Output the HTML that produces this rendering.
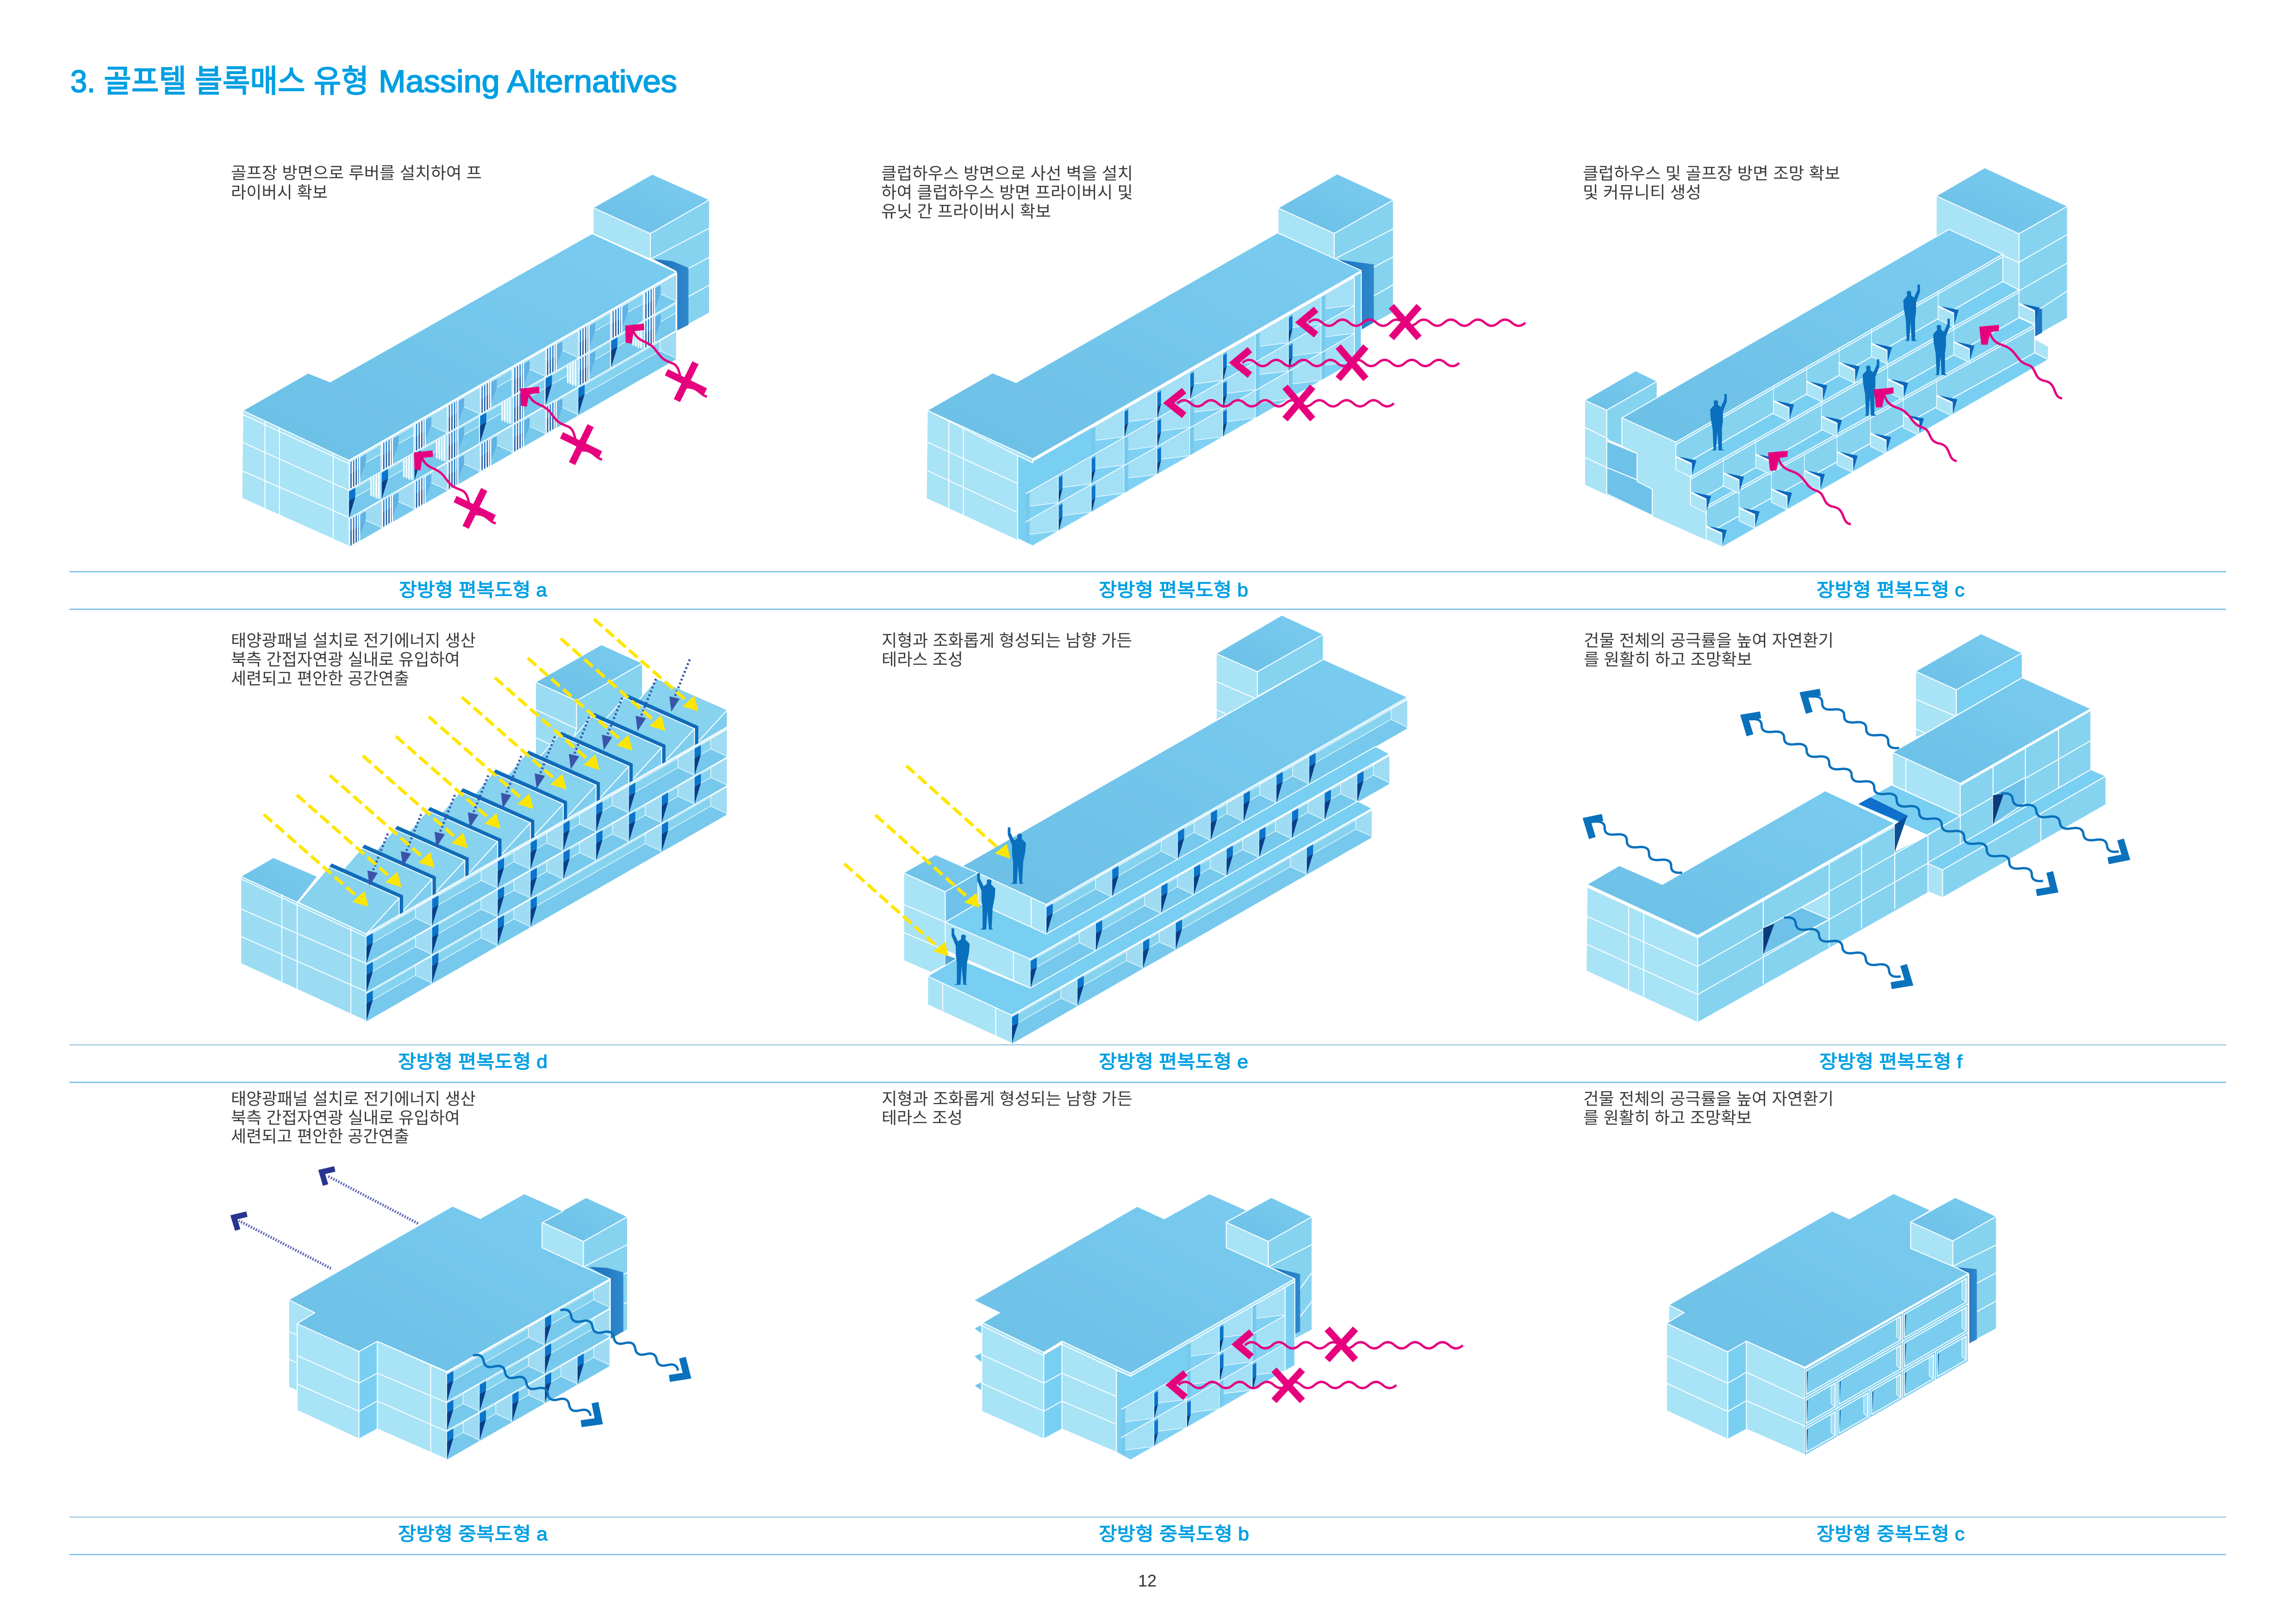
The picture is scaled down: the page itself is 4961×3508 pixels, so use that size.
<!DOCTYPE html>
<html lang="ko"><head><meta charset="utf-8"><title>Massing Alternatives</title>
<style>
html,body{margin:0;padding:0;background:#fff}
svg{display:block}
polygon,polyline,path,line,rect{vector-effect:non-scaling-stroke}
polygon{stroke:#fff;stroke-width:2;stroke-linejoin:round}
.n{stroke:none}
.rf{fill:url(#gr)}
.lt{fill:#a9e3f6}
.md{fill:#86d3f0}
.fl{fill:#79cff2}
.wl{fill:#6ec2e9}
.sd{fill:url(#sg);stroke:none}
.w{stroke:#fff;stroke-width:2;fill:none}
.t{stroke:#fff;stroke-width:1.2;fill:none}
.v{stroke:#fff;stroke-width:3.5;fill:none}
.pk{stroke:#e6007e;stroke-width:5;fill:none}
.pkx{stroke:#e6007e;stroke-width:15;fill:none}
.bw{stroke:#0a71bd;stroke-width:5;fill:none}
.bc{stroke:#0a71bd;stroke-width:15;fill:none;stroke-linejoin:miter}
.nc{stroke:#28348f;stroke-width:12;fill:none;stroke-linejoin:miter}
.nd{stroke:#5a66b8;stroke-width:6;stroke-dasharray:3 3;fill:none}
.yd{stroke:#ffe600;stroke-width:7;stroke-dasharray:24 10;fill:none}
.dd{stroke:#3a55a8;stroke-width:5;stroke-dasharray:4 5;fill:none}
text{font-family:"Liberation Sans","Noto Sans CJK KR",sans-serif}
.ti{font-size:68px;fill:#009fe3;stroke:#009fe3;stroke-width:2}
.lb{font-size:40px;fill:#009fe3;stroke:#009fe3;stroke-width:1.2}
.tx{font-size:36px;fill:#3a3a3a}
.pg{font-size:36px;fill:#333}
</style></head><body>
<svg xmlns="http://www.w3.org/2000/svg" width="4961" height="3508" viewBox="0 0 4961 3508">
<defs>
<clipPath id="cb"><polygon points="460,1010 490,1040 1145,430 1145,706 490,1313 460,1290"/></clipPath>
<clipPath id="cq"><polygon points="640,985 672,1005 1043,700 1043,970 672,1275 640,1250"/></clipPath>
<linearGradient id="gr" x1="0" y1="1" x2="1" y2="0"><stop offset="0" stop-color="#6cbfe5"/><stop offset="1" stop-color="#7accf0"/></linearGradient>
<linearGradient id="sg" x1="0" y1="0" x2="1" y2="0"><stop offset="0" stop-color="#1a6fbd"/><stop offset="1" stop-color="#2f88cc"/></linearGradient>
<g id="bg"><rect width="100" height="100" fill="#86d3f0"/><rect y="38" width="100" height="62" fill="#76c9ec"/><line x1="0" y1="38" x2="100" y2="38" class="t"/><line x1="0" y1="0" x2="100" y2="0" class="w"/><line x1="0" y1="5" x2="100" y2="5" class="t"/><line x1="100" y1="0" x2="100" y2="100" class="v"/></g>
<polygon id="sw" fill="#9fdcf3" style="stroke-width:1.2" points="50,3 100,3 100,97 50,38"/>
<g id="sl"><polygon class="n" fill="#0b74cc" points="1,5 20,5 20,38 1,38"/><polygon class="n" fill="#0a3f88" points="1,38 20,38 1,98"/></g>
<g id="bay"><use href="#bg"/><use href="#sw"/><use href="#sl"/></g>
<g id="b2"><use href="#bg" transform="scale(2 1)"/><use href="#sw" x="100"/><use href="#sl"/></g>
<g id="b3"><use href="#bg" transform="scale(3 1)"/><use href="#sw" x="200"/><use href="#sl"/></g>
<g id="b4"><use href="#bg" transform="scale(4 1)"/><use href="#sw" x="300"/><use href="#sl"/></g>
<g id="lv"><polygon class="n" fill="#5fb2e4" points="30,10 52,8 52,38 30,95"/><rect x="1" y="5" width="30" height="42" fill="#2a86d2"/><rect x="1" y="47" width="30" height="50" fill="#1c5ea6"/><path d="M3 3V100M11 3V100M19 3V100M27 3V100M33 3V100" stroke="#fff" stroke-width="2.8" fill="none"/></g>
<g id="la"><use href="#bg"/><use href="#sw"/><use href="#lv"/></g>
<g id="lc"><use href="#bg"/><use href="#lv"/></g>
<g id="ld"><use href="#bg"/><use href="#sl"/><polygon class="n" fill="#a9e3f6" points="66,3 100,3 100,97 66,60"/><path d="M68 3V66M76 3V75M84 3V85M92 3V92" stroke="#fff" stroke-width="2.8" fill="none"/></g>
<g id="pa"><rect width="100" height="100" fill="#76c9ec"/><polygon class="n" fill="#a3e0f6" points="12,3 100,3 100,98 12,52"/><polygon class="n" fill="#7fd1f4" points="12,52 100,98 100,100 12,100"/><line x1="0" y1="0" x2="100" y2="0" class="w"/><line x1="100" y1="0" x2="100" y2="100" class="w"/><line x1="12" y1="52" x2="100" y2="98" class="t"/></g>
<g id="ps"><use href="#pa"/><polygon class="n" fill="#0b74cc" points="1,10 12,10 12,55 1,60"/><polygon class="n" fill="#0a3b7c" points="1,60 12,55 1,100"/></g>
<g id="wb"><rect width="100" height="100" fill="#7acdee"/><line x1="0" y1="0" x2="100" y2="0" class="w"/><line x1="100" y1="0" x2="100" y2="100" class="v"/><line x1="0" y1="100" x2="100" y2="100" class="w"/></g>
<polygon id="ws" fill="#a3e0f6" style="stroke-width:1.2" points="80,10 92,10 92,90 80,72"/>
<polygon id="wd" class="n" fill="#0b5ea8" points="6,14 10,14 6,88"/>
<g id="win"><use href="#wb"/><use href="#ws"/><rect x="5" y="9" width="88" height="82" class="w"/><use href="#wd"/></g>
<g id="w2"><use href="#wb" transform="scale(2 1)"/><use href="#ws" x="100"/><rect x="5" y="9" width="188" height="82" class="w"/><use href="#wd"/></g>
<g id="w3"><use href="#wb" transform="scale(3 1)"/><use href="#ws" x="200"/><rect x="5" y="9" width="288" height="82" class="w"/><use href="#wd"/></g>
<path id="pn" class="n" fill="#0a6fbd" d="M-10 0L-10 -3L-8 -3L-10 -70L-14 -105L-15 -132L-7 -146L-8 -158Q-3 -166 1 -158L1 -147L7 -140L14 -165L14 -182L19 -182L19 -158L11 -125L11 -95L9 -70L9 -4L14 0L2 0L2 -4L0 -60L-3 -4L-3 0Z"/>
<path id="pw" class="pk" d="M0 0q13.5 -20 27 0t27 0t27 0t27 0t27 0t27 0t27 0t27 0t27 0t27 0t27 0t27 0t27 0t27 0t27 0t27 0"/>
<g id="pd"><polygon class="n" fill="#e6007e" points="825,1135 862,1130 863,1146 842,1149 838,1180 826,1178"/><path class="pk" d="M840 1145C850 1180 870 1170 885 1195S900 1220 920 1230S930 1290 950 1290S975 1310 988 1313"/><path class="pkx" d="M965 1228L928 1323M907 1252L985 1300"/></g>
<g id="pc"><polygon class="n" fill="#e6007e" points="491,1012 531,1006 531,1025 513,1030 508,1070 495,1070"/><path class="pk" d="M512 1028C520 1075 540 1065 555 1085S570 1125 590 1135S600 1180 625 1187S640 1240 660 1243"/></g>
<g id="fn"><line x1="0" y1="0" x2="0" y2="-50" class="t"/><polygon class="n" fill="#0b68bb" points="6,0 42,12 33,60 32,23"/><polygon fill="#a9e3f6" style="stroke-width:1.5" points="0,0 32,23 32,66 0,42"/><line x1="0" y1="0" x2="32" y2="23" class="v"/></g>
<g id="tf"><polygon fill="#7fcdee" points="558,1003 558,1060 472,1125"/><polygon fill="#86d2ef" points="375,898 558,1003 472,1125 295,1018"/></g>
<g id="tt"><polygon class="n" fill="#0f6cba" points="382,886 568,994 568,1054 558,1060 558,1003 375,898"/><use href="#tf"/></g>
<g id="ya"><line x1="205" y1="720" x2="455" y2="1006" class="yd"/><polygon class="n" fill="#ffe600" points="478,1033 436,1016 467,980"/></g>
<g id="da"><line x1="528" y1="785" x2="488" y2="915" class="dd"/><polygon class="n" fill="#3a55a8" points="480,962 475,910 502,918"/></g>
</defs>
<rect width="4961" height="3508" fill="#fff"/>

<text class="ti" x="152" y="199" textLength="645" lengthAdjust="spacingAndGlyphs">3. 골프텔 블록매스 유형</text>
<text class="ti" x="818" y="199" textLength="645" lengthAdjust="spacingAndGlyphs">Massing Alternatives</text>

<g stroke-width="2.5" fill="none">
<path d="M150 1235H4810M150 1316H4810M150 2338H4810M150 3358H4810" stroke="#6dbbe8"/>
<path d="M150 2257H4810M150 3277H4810" stroke="#9fc6da"/>
</g>

<!-- A -->
<g transform="scale(1.0842 .861)">
<polygon class="md" points="1296,586 1414,501 1414,785 1370,815 1370,672 1296,650"/>
<path class="w" d="M1296 650L1414 572M1348 690L1414 645M1348 760L1414 715"/>
<polygon class="lt" points="1182,521 1296,586 1296,650 1182,586"/>
<polygon class="rf" points="1182,521 1300,437 1414,501 1296,586"/>
<polygon class="sd" points="1302,650 1348,680 1348,830 1372,815 1372,672 1340,655"/>
<polygon class="lt" points="484,1030 695,1155 695,1370 482,1250"/>
<path class="w" d="M484 1040L695 1163M484 1110L695 1230M484 1182L695 1298M528 1055V1275M557 1072V1292M664 1137V1350"/>
<polygon class="md" points="695,1155 1348,683 1346,900 695,1370"/>
<g transform="matrix(.653,-.472,0,.716,695,1158)">
<use href="#lc"/><use href="#lc" x="100"/><use href="#la" x="200"/><use href="#la" x="300"/><use href="#lc" x="400"/><use href="#la" x="500"/><use href="#la" x="600"/><use href="#lc" x="700"/><use href="#lc" x="800"/><use href="#la" x="900"/>
<use href="#ld" y="100"/><use href="#ld" x="100" y="100"/><use href="#ld" x="200" y="100"/><use href="#lc" x="300" y="100"/><use href="#ld" x="400" y="100"/><use href="#lc" x="500" y="100"/><use href="#ld" x="600" y="100"/><use href="#lc" x="700" y="100"/><use href="#ld" x="800" y="100"/><use href="#lc" x="900" y="100"/>
<use href="#la" y="200"/><use href="#la" x="100" y="200"/><use href="#la" x="200" y="200"/><use href="#la" x="300" y="200"/><use href="#la" x="400" y="200"/><use href="#la" x="500" y="200"/><use href="#la" x="600" y="200"/><use href="#b3" x="700" y="200"/>
</g>
<polygon class="rf" points="484,1030 614,936 658,958 1180,586 1348,683 695,1155"/>
<use href="#pd"/><use href="#pd" x="212" y="-160"/><use href="#pd" x="421" y="-318"/>
</g>
<text class="tx" x="499" y="386" textLength="542" lengthAdjust="spacingAndGlyphs">골프장 방면으로 루버를 설치하여 프</text>
<text class="tx" x="499" y="428" textLength="209" lengthAdjust="spacingAndGlyphs">라이버시 확보</text>
<text class="lb" x="862" y="1288" textLength="320" lengthAdjust="spacingAndGlyphs">장방형 편복도형 a</text>

<!-- B -->
<g transform="translate(1700 300) scale(1.0842 .6696)">
<polygon class="md" points="1091,305 1209,197 1209,560 1146,615 1145,425 1091,388"/>
<path class="w" d="M1091 388L1209 290M1145 435L1209 380M1145 530L1209 470"/>
<polygon class="lt" points="979,223 1091,305 1091,388 979,303"/>
<polygon class="rf" points="979,223 1097,113 1209,197 1091,305"/>
<polygon class="sd" points="1100,390 1145,425 1146,615 1170,592 1170,405"/>
<polygon class="lt" points="280,876 460,1010 460,1295 278,1160"/>
<path class="w" d="M280 978L460 1112M280 1070L460 1205M323 910V1192M352 935V1215"/>
<polygon class="fl" points="460,1010 490,1040 1145,430 1145,706 490,1313 460,1290"/>
<g clip-path="url(#cb)"><g transform="matrix(.655,-.607,0,.91,476,1054)">
<polygon class="fl n" points="-16,15 200,0 200,95 -16,100"/>
<use href="#pa" x="200"/><use href="#ps" x="300"/><use href="#ps" x="400"/><use href="#ps" x="500"/><use href="#ps" x="600"/><use href="#pa" x="700"/><use href="#ps" x="800"/><use href="#pa" x="900"/>
<use href="#pa" y="100"/><use href="#ps" x="100" y="100"/><use href="#ps" x="200" y="100"/><use href="#pa" x="300" y="100"/><use href="#ps" x="400" y="100"/><use href="#pa" x="500" y="100"/><use href="#ps" x="600" y="100"/><use href="#pa" x="700" y="100"/><use href="#ps" x="800" y="100"/><use href="#pa" x="900" y="100"/>
<use href="#pa" y="200"/><use href="#ps" x="100" y="200"/><use href="#ps" x="200" y="200"/><use href="#pa" x="300" y="200"/><use href="#ps" x="400" y="200"/><use href="#pa" x="500" y="200"/><use href="#ps" x="600" y="200"/><use href="#pa" x="700" y="200"/><use href="#pa" x="800" y="200"/><use href="#pa" x="900" y="200"/>
</g></g>
<path class="w" d="M460 1290L490 1313L1145 706"/>
<polygon class="rf" points="280,876 410,755 457,786 978,303 1145,425 490,1032"/>
<polygon class="lt" points="280,876 490,1032 490,1045 460,1022"/>
<use href="#pw" x="1040" y="593"/><use href="#pw" x="908" y="723"/><use href="#pw" x="778" y="853"/>
<path class="pkx" d="M1055 550L1024 592L1055 632M923 680L892 722L923 762M792 812L761 852L792 892"/>
<path class="pkx" d="M1205 540L1260 642M1260 540L1205 642M1099 670L1154 774M1154 670L1099 774M993 800L1048 904M1048 800L993 904"/>
</g>
<text class="tx" x="1904" y="387" textLength="544" lengthAdjust="spacingAndGlyphs">클럽하우스 방면으로 사선 벽을 설치</text>
<text class="tx" x="1904" y="428" textLength="544" lengthAdjust="spacingAndGlyphs">하여 클럽하우스 방면 프라이버시 및</text>
<text class="tx" x="1904" y="469" textLength="367" lengthAdjust="spacingAndGlyphs">유닛 간 프라이버시 확보</text>
<text class="lb" x="2374" y="1288" textLength="323" lengthAdjust="spacingAndGlyphs">장방형 편복도형 b</text>

<!-- C -->
<g transform="translate(3300 300) scale(1.0593 .6696)">
<polygon class="md" points="1003,306 1102,217 1102,578 1035,638 1035,548 1003,530"/>
<path class="w" d="M1003 398L1102 308M1003 490L1102 400M1035 560L1102 490"/>
<polygon class="n" fill="#1f78c2" points="1035,548 1050,548 1050,625 1035,638"/>
<polygon class="lt" points="834,184 1003,306 1003,400 970,375 860,292 834,315"/>
<polygon class="lt" points="970,375 1003,400 1003,487 970,460"/>
<polygon class="rf" points="834,184 933,93 1102,217 1003,306"/>
<polygon class="lt" points="117,843 162,875 162,1150 117,1117"/>
<polygon class="md" points="162,875 265,782 265,845 193,900 193,990 162,970"/>
<polygon class="rf" points="117,843 221,748 265,782 162,875"/>
<polygon class="lt" points="117,930 162,965 255,1125 255,1218 117,1117"/>
<polygon class="wl" points="162,975 224,1015 224,1100 162,1060"/>
<polygon class="wl" points="162,1060 224,1100 255,1125 255,1215 162,1145"/>
<path class="w" d="M117 930L162 965M117 1027L162 1060M162 875V1145"/>
<polygon class="lt" points="193,900 303,978 303,1050 333,1090 333,1162 365,1185 365,1275 397,1318 255,1218 255,1130 224,1105 224,1015 193,992"/>
<polygon class="md" points="303,978 970,372 970,460 303,1065"/>
<polygon class="fl" points="303,1065 970,460 1003,487 333,1090"/>
<polygon class="md" points="333,1090 1003,487 1003,577 333,1180"/>
<polygon class="fl" points="333,1180 1003,577 1035,600 365,1205"/>
<polygon class="md" points="365,1185 1035,600 1035,690 365,1275"/>
<polygon class="fl" points="365,1275 1035,690 1063,712 397,1318"/>
<polygon class="lt" points="1035,645 1063,670 1063,712 1035,690"/>
<polygon class="rf" points="193,900 860,292 970,372 303,978"/>
<path class="w" d="M303 986L970 380M333 1098L1003 495M365 1193L1035 608"/>
<use href="#fn" x="303" y="1025"/><use href="#fn" x="502" y="845"/><use href="#fn" x="570" y="783"/><use href="#fn" x="636" y="722"/><use href="#fn" x="702" y="660"/><use href="#fn" x="838" y="540"/>
<use href="#fn" x="333" y="1140"/><use href="#fn" x="400" y="1078"/><use href="#fn" x="466" y="1018"/><use href="#fn" x="600" y="895"/><use href="#fn" x="735" y="775"/><use href="#fn" x="870" y="655"/>
<use href="#fn" x="365" y="1250"/><use href="#fn" x="432" y="1190"/><use href="#fn" x="498" y="1130"/><use href="#fn" x="565" y="1070"/><use href="#fn" x="632" y="1010"/><use href="#fn" x="700" y="950"/><use href="#fn" x="767" y="890"/><use href="#fn" x="835" y="828"/><use href="#fn" x="1003" y="532"/>
<use href="#pn" x="388" y="1005"/><use href="#pn" x="782" y="652"/><use href="#pn" x="843" y="762"/><use href="#pn" x="699" y="893"/>
<use href="#pc"/><use href="#pc" x="216" y="-204"/><use href="#pc" x="431" y="-406"/>
</g>
<text class="tx" x="3420" y="387" textLength="556" lengthAdjust="spacingAndGlyphs">클럽하우스 및 골프장 방면 조망 확보</text>
<text class="tx" x="3420" y="428" textLength="256" lengthAdjust="spacingAndGlyphs">및 커뮤니티 생성</text>
<text class="lb" x="3925" y="1288" textLength="320" lengthAdjust="spacingAndGlyphs">장방형 편복도형 c</text>

<!-- D -->
<g transform="translate(400 1300) scale(.8291 .6378)">
<polygon class="md" points="1020,335 1192,208 1192,330 1000,530 913,520"/>
<polygon fill="#9bdcf3" points="913,272 1020,335 1020,430 1000,520 913,520"/>
<path class="w" d="M913 365L1020 430M913 460L980 500"/>
<polygon class="rf" points="913,272 1085,145 1192,208 1020,335"/>
<polygon class="rf" points="145,930 230,866 345,930 292,1018"/>
<polygon fill="#9bdcf3" points="145,930 472,1125 472,1420 145,1225"/>
<path class="w" d="M145 938L472 1135M145 1040L472 1225M145 1133L472 1320M252 990V1290M292 1015V1315M432 1100V1395"/>
<polygon class="md" points="472,1125 1412,425 1412,720 472,1420"/>
<g transform="matrix(.855,-.637,0,.97,472,1130)">
<use href="#b2"/><use href="#b2" x="200"/><use href="#bay" x="400"/><use href="#bay" x="500"/><use href="#bay" x="600"/><use href="#bay" x="700"/><use href="#b2" x="800"/><use href="#bay" x="1000"/>
<use href="#b2" y="100"/><use href="#b2" x="200" y="100"/><use href="#bay" x="400" y="100"/><use href="#bay" x="500" y="100"/><use href="#bay" x="600" y="100"/><use href="#bay" x="700" y="100"/><use href="#bay" x="800" y="100"/><use href="#bay" x="900" y="100"/><use href="#bay" x="1000" y="100"/>
<use href="#b2" y="200"/><use href="#b2" x="200" y="200"/><use href="#bay" x="400" y="200"/><use href="#b4" x="500" y="200"/><use href="#b2" x="900" y="200"/>
</g>
<use href="#tf" x="855" y="-637"/><use href="#tt" x="769.5" y="-573.3"/><use href="#tt" x="684" y="-509.6"/><use href="#tt" x="598.5" y="-445.9"/><use href="#tt" x="513" y="-382.2"/><use href="#tt" x="427.5" y="-318.5"/><use href="#tt" x="342" y="-254.8"/><use href="#tt" x="256.5" y="-191.1"/><use href="#tt" x="171" y="-127.4"/><use href="#tt" x="85.5" y="-63.7"/><use href="#tt"/>
<path class="w" d="M472 1125L1412 425"/>
<use href="#da" x="0" y="0"/><use href="#da" x="87" y="-65.5"/><use href="#da" x="175" y="-131"/><use href="#da" x="262" y="-197"/><use href="#da" x="348" y="-263"/><use href="#da" x="436" y="-329"/><use href="#da" x="525" y="-395"/><use href="#da" x="611" y="-460"/><use href="#da" x="699" y="-524"/><use href="#da" x="787" y="-590"/>
<use href="#ya"/><use href="#ya" x="86" y="-66.2"/><use href="#ya" x="172" y="-132.4"/><use href="#ya" x="258" y="-198.6"/><use href="#ya" x="344" y="-264.8"/><use href="#ya" x="430" y="-331"/><use href="#ya" x="516" y="-397.2"/><use href="#ya" x="602" y="-463.4"/><use href="#ya" x="688" y="-529.6"/><use href="#ya" x="774" y="-595.8"/><use href="#ya" x="860" y="-662"/>
</g>
<text class="tx" x="499" y="1396" textLength="529" lengthAdjust="spacingAndGlyphs">태양광패널 설치로 전기에너지 생산</text>
<text class="tx" x="499" y="1437" textLength="495" lengthAdjust="spacingAndGlyphs">북측 간접자연광 실내로 유입하여</text>
<text class="tx" x="499" y="1478" textLength="385" lengthAdjust="spacingAndGlyphs">세련되고 편안한 공간연출</text>
<text class="lb" x="860" y="2307" textLength="323" lengthAdjust="spacingAndGlyphs">장방형 편복도형 d</text>

<!-- E -->
<g transform="translate(1700 1300) scale(.9566 .6378)">
<polygon class="md" points="1063,237 1212,110 1212,195 1063,320"/>
<polygon class="lt" points="970,175 1063,237 1063,325 970,400"/>
<path class="w" d="M970 270L1063 330M970 365L1000 385"/>
<polygon class="rf" points="970,175 1118,45 1212,110 1063,237"/>
<polygon class="lt" points="264,918 358,982 358,1230 325,1255 264,1215"/>
<path class="w" d="M264 1025L358 1085M264 1120L358 1180"/>
<polygon class="rf" points="264,918 336,856 396,896 432,918 358,982"/>
<polygon class="wl" points="358,982 432,918 432,1020 358,1085"/>
<polygon class="lt" points="432,918 586,1025 586,1125 432,1020"/>
<line x1="552" y1="1002" x2="552" y2="1102" class="w"/>
<polygon class="md" points="586,1025 1402,323 1402,430 586,1125"/>
<g transform="matrix(.742,-.638,0,1,586,1030)">
<use href="#b2"/><use href="#b2" x="200"/><use href="#bay" x="400"/><use href="#bay" x="500"/><use href="#bay" x="600"/><use href="#bay" x="700"/><use href="#b3" x="800"/>
</g>
<polygon class="rf" points="396,895 1212,195 1402,323 586,1025 432,918"/>
<polygon class="fl" points="358,1085 432,1020 586,1125 1330,490 1362,515 550,1210"/>
<polygon class="lt" points="358,1085 550,1210 550,1308 358,1180"/>
<line x1="512" y1="1187" x2="512" y2="1285" class="w"/>
<polygon class="md" points="550,1210 1362,515 1362,615 550,1308"/>
<g transform="matrix(.738,-.631,0,.98,550,1212)">
<use href="#b2"/><use href="#b2" x="200"/><use href="#bay" x="400"/><use href="#bay" x="500"/><use href="#bay" x="600"/><use href="#bay" x="700"/><use href="#bay" x="800"/><use href="#bay" x="900"/><use href="#bay" x="1000"/>
</g>
<polygon class="n" fill="#4fa8d8" points="358,1195 385,1210 358,1230"/>
<polygon class="fl" points="318,1268 385,1208 550,1308 1290,675 1322,700 508,1400"/>
<polygon class="lt" points="318,1268 508,1400 508,1495 318,1365"/>
<path class="w" d="M352 1292V1388M472 1375V1472"/>
<polygon class="md" points="508,1400 1322,700 1322,795 508,1495"/>
<g transform="matrix(.74,-.636,0,.95,508,1402)">
<use href="#b2"/><use href="#b2" x="200"/><use href="#bay" x="400"/><use href="#b4" x="500"/><use href="#b2" x="900"/>
</g>
<use href="#pn" transform="translate(522 955) scale(-1.2 1.05)"/><use href="#pn" transform="translate(453 1110) scale(-1.2 1.05)"/><use href="#pn" transform="translate(395 1297) scale(-1.2 1.05)"/>
<path class="yd" d="M270 555L487 847M200 722L418 1013M130 887L348 1178"/>
<polygon class="n" fill="#ffe600" points="505,870 470,852 497,820"/><polygon class="n" fill="#ffe600" points="436,1036 401,1018 428,986"/><polygon class="n" fill="#ffe600" points="366,1201 331,1183 358,1151"/>
</g>
<text class="tx" x="1905" y="1396" textLength="541" lengthAdjust="spacingAndGlyphs">지형과 조화롭게 형성되는 남향 가든</text>
<text class="tx" x="1905" y="1437" textLength="176" lengthAdjust="spacingAndGlyphs">테라스 조성</text>
<text class="lb" x="2374" y="2307" textLength="323" lengthAdjust="spacingAndGlyphs">장방형 편복도형 e</text>

<!-- F -->
<g transform="translate(3300 1300) scale(.9566 .6378)">
<polygon class="fl" points="969,298 1118,173 1118,257 969,385"/>
<polygon class="lt" points="877,235 969,298 969,385 900,445 877,460"/>
<path class="w" d="M877 330L969 388M877 430L900 445"/>
<polygon class="rf" points="877,235 1025,108 1118,173 969,298"/>
<polygon class="fl" points="745,685 823,620 978,725 903,790"/>
<polygon class="n" fill="#0f6fcc" points="748,685 775,662 860,725 850,750 780,705"/>
<polygon class="lt" points="825,510 978,615 978,725 825,620"/>
<line x1="855" y1="530" x2="855" y2="640" class="w"/>
<polygon class="md" points="978,622 1273,368 1273,568 978,822"/>
<path class="w" d="M978 725L1273 470M1052 560V755M1125 497V680M1200 432V630"/>
<polygon class="wl" points="1052,655 1125,595 1125,680 1052,755"/>
<polygon class="n" fill="#0a3b7c" points="1052,655 1076,650 1052,755"/>
<polygon class="rf" points="825,510 1118,257 1273,362 978,615"/>
<polygon class="md" points="905,790 978,725 978,822 905,885"/>
<polygon class="fl" points="903,885 1273,568 1307,590 938,908"/>
<polygon class="md" points="938,908 1307,590 1307,687 938,1002"/>
<line x1="1160" y1="720" x2="1160" y2="815" class="w"/>
<polygon class="lt" points="903,885 938,908 938,1002 903,980"/>
<polygon class="lt" points="135,965 385,1135 385,1425 133,1250"/>
<path class="w" d="M135 1065L385 1235M135 1160L385 1330M229 1035V1315M263 1055V1340"/>
<polygon class="md" points="385,1135 830,755 830,845 905,790 905,985 385,1425"/>
<path class="w" d="M385 1235L905 790M385 1330L905 885M533 1008V1295M682 885V1170M755 820V1105M830 755V1040"/>
<polygon class="wl" points="533,1105 620,1035 682,1075 533,1195"/>
<polygon class="lt" points="620,1035 682,985 682,1075"/>
<polygon class="n" fill="#0a3b7c" points="533,1105 558,1090 533,1195"/>
<polygon class="n" fill="#0a4f96" points="830,755 858,725 830,848"/>
<polygon class="rf" points="135,957 208,893 305,957 673,640 830,750 385,1130"/>
<path class="w" d="M135 966L385 1138L830 760"/>
<g transform="translate(350 917) rotate(-139.3)"><path class="bw" d="M0 0q16.500 -20 33 0t33 0t33 0t33 0t33 0t33 0t33 0t33 0"/></g>
<g transform="translate(840 495) rotate(-138.8)"><path class="bw" d="M0 0q16.500 -20 33 0t33 0t33 0t33 0t33 0t33 0t33 0t33 0"/></g>
<g transform="translate(1165 945) rotate(-140.4)"><path class="bw" d="M0 0q16.500 -20 33 0t33 0t33 0t33 0t33 0t33 0t33 0t33 0t33 0t33 0t33 0t33 0t33 0t33 0t33 0t33 0t33 0t33 0t33 0t33 0t33 0t33 0t33 0t33 0t33 0t33 0"/></g>
<g transform="translate(1070 650) rotate(36.3)"><path class="bw" d="M0 0q16.500 -20 33 0t33 0t33 0t33 0t33 0t33 0t33 0t33 0t33 0t33 0"/></g>
<g transform="translate(580 1070) rotate(37)"><path class="bw" d="M0 0q16.500 -20 33 0t33 0t33 0t33 0t33 0t33 0t33 0t33 0t33 0t33 0"/></g>
<path class="bc" d="M170 730L135 741L147 800M662 306L625 316L637 376M527 383L491 392L503 452M1180 915L1190 975L1150 985M1340 805L1352 865L1312 877M850 1230L862 1290L822 1300"/>
</g>
<text class="tx" x="3422" y="1396" textLength="540" lengthAdjust="spacingAndGlyphs">건물 전체의 공극률을 높여 자연환기</text>
<text class="tx" x="3422" y="1437" textLength="364" lengthAdjust="spacingAndGlyphs">를 원활히 하고 조망확보</text>
<text class="lb" x="3931" y="2307" textLength="309" lengthAdjust="spacingAndGlyphs">장방형 편복도형 f</text>

<!-- 3A -->
<g transform="translate(400 2300) scale(.8291 .6696)">
<polygon class="lt" points="270,758 338,800 292,835 292,1052 270,1040"/>
<path class="w" d="M270 860L292 872M270 950L292 962"/>
<polygon class="md" points="1038,570 1153,490 1153,855 1108,885 1108,690 1038,652"/>
<path class="w" d="M1038 652L1153 580M1108 695L1153 670M1108 795L1153 765"/>
<polygon class="lt" points="930,508 1038,570 1038,652 930,590"/>
<polygon class="rf" points="930,508 1045,428 1153,490 1038,570"/>
<polygon class="sd" points="1052,652 1108,690 1108,885 1142,860 1142,670 1100,655"/>
<polygon class="lt" points="292,835 453,925 453,1207 292,1115"/>
<path class="w" d="M292 938L453 1027M292 1030L453 1118"/>
<polygon class="fl" points="453,925 501,892 501,1175 453,1207"/>
<path class="w" d="M453 1027L501 995M453 1118L501 1085"/>
<polygon class="lt" points="501,892 682,992 682,1273 501,1175"/>
<path class="w" d="M501 995L682 1090M501 1085L682 1183M640 970V1250"/>
<polygon class="md" points="682,992 1108,690 1108,970 682,1273"/>
<g transform="matrix(.85,-.605,0,.93,682,995)">
<use href="#b3"/><use href="#b2" x="300"/>
<use href="#bay" y="100"/><use href="#b2" x="100" y="100"/><use href="#b2" x="300" y="100"/>
<use href="#bay" y="200"/><use href="#bay" x="100" y="200"/><use href="#bay" x="200" y="200"/><use href="#bay" x="300" y="200"/><use href="#bay" x="400" y="200"/>
</g>
<polygon class="rf" points="270,758 697,456 769,496 884,416 985,472 930,510 930,590 1038,652 1108,690 682,990 501,892 453,925 292,835 338,800"/>
<line x1="380" y1="657" x2="140" y2="503" class="nd"/><line x1="607" y1="512" x2="370" y2="358" class="nd"/>
<path class="nc" d="M161 482L127 492L137 533M390 336L356 346L366 388"/>
<g transform="translate(750 938) rotate(32.4)"><path class="bw" d="M0 0q16.500 -20 33 0t33 0t33 0t33 0t33 0t33 0t33 0t33 0t33 0t33 0t33 0"/></g>
<g transform="translate(978 792) rotate(32.4)"><path class="bw" d="M0 0q16.500 -20 33 0t33 0t33 0t33 0t33 0t33 0t33 0t33 0t33 0t33 0t33 0"/></g>
<path class="bc" d="M1068 1090L1078 1150L1032 1158M1296 945L1308 1003L1262 1012"/>
</g>
<text class="tx" x="499" y="2386" textLength="529" lengthAdjust="spacingAndGlyphs">태양광패널 설치로 전기에너지 생산</text>
<text class="tx" x="499" y="2427" textLength="495" lengthAdjust="spacingAndGlyphs">북측 간접자연광 실내로 유입하여</text>
<text class="tx" x="499" y="2467" textLength="385" lengthAdjust="spacingAndGlyphs">세련되고 편안한 공간연출</text>
<text class="lb" x="860" y="3327" textLength="323" lengthAdjust="spacingAndGlyphs">장방형 중복도형 a</text>

<!-- 3B -->
<g transform="translate(1800 2300) scale(.9566 .6696)">
<polygon class="rf" points="318,850 336,838 336,870"/><polygon class="rf" points="318,940 336,928 336,962"/><polygon class="rf" points="318,1035 336,1022 336,1052"/>
<polygon class="md" points="983,570 1082,490 1082,855 1043,885 1043,690 983,652"/>
<path class="w" d="M983 652L1082 580M1043 745L1082 670M1043 835L1082 762"/>
<polygon class="lt" points="888,508 983,570 983,652 888,590"/>
<polygon class="rf" points="888,508 990,428 1082,490 983,570"/>
<polygon class="sd" points="995,655 1043,690 1025,702 1025,880 1055,860 1055,675"/>
<polygon class="lt" points="336,838 476,935 476,1207 336,1118"/>
<path class="w" d="M336 935L476 1027M336 1027L476 1118"/>
<polygon class="fl" points="476,935 517,900 517,1175 476,1207"/>
<path class="w" d="M476 1027L517 995M476 1118L517 1085"/>
<polygon class="lt" points="517,900 640,985 640,1250 517,1175"/>
<path class="w" d="M517 995L640 1070M517 1085L640 1160"/>
<polygon class="fl" points="640,985 672,1005 1043,700 1043,970 672,1275 640,1250"/>
<g clip-path="url(#cq)"><g transform="matrix(.74,-.607,0,.91,651,1021)">
<polygon class="fl n" points="0,0 200,0 200,100 0,100"/><use href="#pa" x="200"/><use href="#ps" x="300"/><use href="#pa" x="400"/>
<use href="#pa" y="100"/><use href="#ps" x="100" y="100"/><use href="#pa" x="200" y="100"/><use href="#ps" x="300" y="100"/><use href="#pa" x="400" y="100"/>
<use href="#pa" y="200"/><use href="#ps" x="100" y="200"/><use href="#ps" x="200" y="200"/><use href="#pa" x="300" y="200"/><use href="#ps" x="400" y="200"/>
</g></g>
<path class="w" d="M640 1250L672 1275L1043 970"/>
<polygon class="rf" points="318,760 687,457 748,497 850,416 935,470 888,508 888,590 983,652 1043,690 672,995 517,892 476,928 338,832 376,800"/>
<polygon class="lt" points="338,832 476,928 476,938 336,842"/><polygon class="lt" points="517,892 672,995 672,1005 517,902"/><polygon class="lt" points="672,995 1043,690 1043,700 672,1005"/>
<g transform="translate(930 905) scale(1.14 1)"><use href="#pw"/></g><g transform="translate(780 1033) scale(1.14 1)"><use href="#pw"/></g>
<path class="pkx" d="M945 862L912 902L945 942M796 994L763 1033L796 1073"/>
<path class="pkx" d="M1116 852L1180 952M1180 852L1116 952M996 984L1060 1084M1060 984L996 1084"/>
</g>
<text class="tx" x="1905" y="2386" textLength="542" lengthAdjust="spacingAndGlyphs">지형과 조화롭게 형성되는 남향 가든</text>
<text class="tx" x="1905" y="2427" textLength="175" lengthAdjust="spacingAndGlyphs">테라스 조성</text>
<text class="lb" x="2374" y="3327" textLength="325" lengthAdjust="spacingAndGlyphs">장방형 중복도형 b</text>

<!-- 3C -->
<g transform="translate(3300 2300) scale(1.0593 .7704)">
<polygon class="lt" points="289,673 320,695 288,722"/>
<polygon class="md" points="868,494 957,425 957,740 900,782 900,585 868,565"/>
<path class="w" d="M868 565L957 505M900 625L957 583M900 705L957 662"/>
<polygon class="lt" points="782,441 868,494 868,565 782,515"/>
<polygon class="rf" points="782,441 873,372 957,425 868,494"/>
<polygon class="sd" points="878,568 900,585 900,782 917,770 917,573"/>
<polygon class="lt" points="284,725 409,805 409,1050 284,970"/>
<path class="w" d="M284 815L409 893M284 893L409 972"/>
<polygon class="fl" points="409,805 447,775 447,1022 409,1050"/>
<path class="w" d="M409 893L447 862M409 972L447 942"/>
<polygon class="lt" points="447,775 566,850 566,1093 447,1022"/>
<path class="w" d="M447 862L566 938M447 942L566 1013"/>
<polygon class="md" points="566,850 900,585 900,830 566,1093"/>
<g transform="matrix(.668,-.53,0,.81,566,853)">
<use href="#w3"/><use href="#w2" x="300"/>
<use href="#win" y="100"/><use href="#w2" x="100" y="100"/><use href="#w2" x="300" y="100"/>
<use href="#win" y="200"/><use href="#win" x="100" y="200"/><use href="#win" x="200" y="200"/><use href="#win" x="300" y="200"/><use href="#win" x="400" y="200"/>
</g>
<polygon class="rf" points="289,673 622,410 657,432 747,361 823,408 782,441 782,515 868,565 900,585 566,848 447,775 409,805 284,725 320,695"/>
</g>
<text class="tx" x="3421" y="2386" textLength="541" lengthAdjust="spacingAndGlyphs">건물 전체의 공극률을 높여 자연환기</text>
<text class="tx" x="3421" y="2427" textLength="364" lengthAdjust="spacingAndGlyphs">를 원활히 하고 조망확보</text>
<text class="lb" x="3925" y="3327" textLength="320" lengthAdjust="spacingAndGlyphs">장방형 중복도형 c</text>

<text class="pg" x="2459" y="3427">12</text>
</svg>
</body></html>
